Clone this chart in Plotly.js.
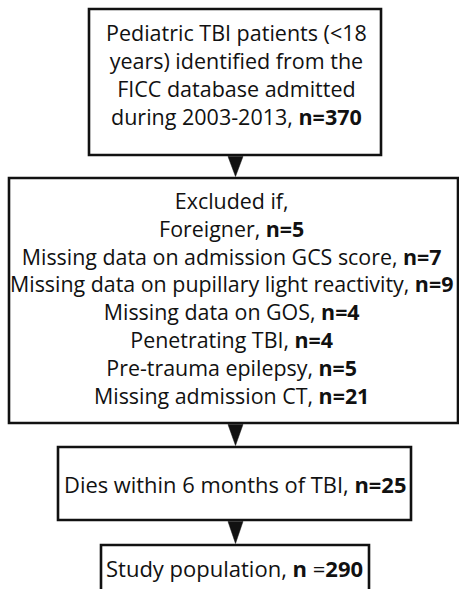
<!DOCTYPE html>
<html>
<head>
<meta charset="utf-8">
<script src="https://cdn.plot.ly/plotly-3.0.1.min.js"></script>
<style>html,body{margin:0;padding:0;background:#fff;}#chart{width:459px;height:589px;}</style>
</head>
<body>
<div id="chart"></div>
<script>
// ---- Data ----
const sourceText = ["Pediatric TBI patients (<18", "years) identified from the", "FICC database admitted", "during 2003-2013, "];
const totalIdentified = 370;
const exclusionHeader = "Excluded if,";
const exclusionReasons = ["Foreigner", "Missing data on admission GCS score", "Missing data on pupillary light reactivity", "Missing data on GOS", "Penetrating TBI", "Pre-trauma epilepsy", "Missing admission CT"];
const exclusionCounts = [5, 7, 9, 4, 4, 5, 21];
const deathLabel = "Dies within 6 months of TBI, ";
const deathCount = 25;
const studyLabel = "Study population, ";
const studyCount = 290;

// ---- Layout geometry (pixels, y downward) ----
const boxes = [
  {x0: 89, x1: 381, y0: 9, y1: 155},
  {x0: 9, x1: 458, y0: 178, y1: 423},
  {x0: 58, x1: 411, y0: 447, y1: 520},
  {x0: 101, x1: 369, y0: 545, y1: 600}
];
const cx = 235.5;
const textCenters = [236, 231, 234.5, 234.5];
const textMidY = [74, 298, 484.5, 567.5];
const fontFamily = '"Open Sans", Lato, sans-serif';
const sizes = [21.5, 21.4, 21.9, 22];

// build box texts
const box1Lines = sourceText.map((t, i) => i === sourceText.length - 1 ? t + "<b>n=" + totalIdentified + "</b>" : t);
const box2Lines = [exclusionHeader].concat(exclusionReasons.map((r, i) => r + ", <b>n=" + exclusionCounts[i] + "</b>"));
const boxTexts = [
  box1Lines.join("<br>"),
  box2Lines.join("<br>"),
  deathLabel + "<b>n=" + deathCount + "</b>",
  studyLabel + "<b>n</b> =<b>" + studyCount + "</b>"
];

const annotations = boxTexts.map((t, b) => ({
  x: textCenters[b], y: textMidY[b], xref: 'x', yref: 'y', text: t, showarrow: false,
  xanchor: 'center', yanchor: 'middle', align: 'center',
  font: {family: fontFamily, size: sizes[b], color: '#111'}
}));

const shapes = boxes.map(b => ({
  type: 'rect', xref: 'x', yref: 'y', x0: b.x0, x1: b.x1, y0: b.y0, y1: b.y1,
  line: {color: '#111', width: 2.6}, fillcolor: 'rgba(0,0,0,0)'
}));
for (let i = 0; i < boxes.length - 1; i++) {
  const top = boxes[i].y1 + 1.5, bot = boxes[i + 1].y0 - 1.5, hw = 7.5;
  shapes.push({
    type: 'path', xref: 'x', yref: 'y',
    path: `M ${cx - hw} ${top} L ${cx + hw} ${top} L ${cx} ${bot} Z`,
    fillcolor: '#111', line: {color: '#111', width: 0.5}
  });
}

const layout = {
  width: 459, height: 589,
  margin: {l: 0, r: 0, t: 0, b: 0},
  paper_bgcolor: '#fff', plot_bgcolor: '#fff',
  xaxis: {range: [0, 459], visible: false, fixedrange: true},
  yaxis: {range: [589, 0], visible: false, fixedrange: true},
  showlegend: false,
  shapes: shapes,
  annotations: annotations
};
Plotly.newPlot('chart', [{x: [], y: [], type: 'scatter'}], layout, {displayModeBar: false, staticPlot: true});
</script>
</body>
</html>
